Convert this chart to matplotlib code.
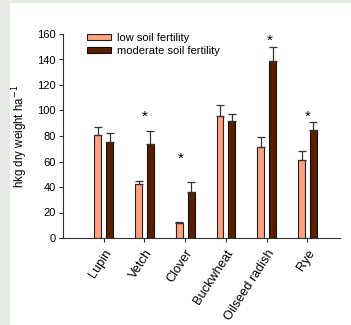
import numpy as np
import matplotlib.pyplot as plt
from matplotlib.patches import Rectangle

plt.rcParams['font.family'] = ['Liberation Sans', 'DejaVu Sans']

crops = ["Lupin", "Vetch", "Clover", "Buckwheat", "Oilseed radish", "Rye"]
low_mean = [80.5, 42, 12, 96, 71, 61]
low_err = [6.5, 2.5, 0.5, 8, 8.5, 7.5]
mod_mean = [75.5, 74, 36, 91.5, 138.5, 85]
mod_err = [7, 10, 8, 5.5, 11.5, 6]

# significance stars (x in category units, y in data units)
star_x = [1.0, 1.88, 4.07, 5.0]
star_y = [95, 62, 155, 95]

low_color = "#ffa07f"
mod_color = "#5c1e00"

fig = plt.figure(figsize=(3.51, 3.25), dpi=100, facecolor="#e2eae1")
fig.patches.append(Rectangle((10 / 351, 0), 1, 1 - 3 / 325, transform=fig.transFigure,
                             facecolor="white", edgecolor="none", zorder=-10))
ax = fig.add_axes([63 / 351, 1 - 238 / 325, 277 / 351, 204 / 325])
ax.set_facecolor("none")

x = np.arange(len(crops))
w = 0.17
off = 0.145
ekw = dict(ecolor="#333333", elinewidth=0.9, capsize=3, capthick=0.9)
ax.bar(x - off, low_mean, w, color=low_color, edgecolor="#222222", linewidth=0.8,
       yerr=[np.zeros(len(x)), low_err], error_kw=ekw, label="low soil fertility")
ax.bar(x + off, mod_mean, w, color=mod_color, edgecolor="#111111", linewidth=0.8,
       yerr=[np.zeros(len(x)), mod_err], error_kw=ekw, label="moderate soil fertility")

for sx, sy in zip(star_x, star_y):
    ax.text(sx, sy, "*", ha="center", va="center", fontsize=11)

ax.set_xlim(-1.0, 5.8)
ax.set_ylim(0, 160)
ax.set_yticks(np.arange(0, 161, 20))
ax.set_xticks(x)
ax.set_xticklabels(crops, rotation=57, ha="right", rotation_mode="anchor", fontsize=9.2)
ax.tick_params(axis="y", labelsize=8, length=3, width=0.8, colors="#333333", pad=2)
ax.tick_params(axis="x", length=3, width=0.8, colors="#333333", pad=4)
for lab in ax.get_xticklabels() + ax.get_yticklabels():
    lab.set_color("black")
for s in ["top", "right"]:
    ax.spines[s].set_visible(False)
for s in ["left", "bottom"]:
    ax.spines[s].set_linewidth(0.8)
    ax.spines[s].set_color("#333333")

ax.set_ylabel("hkg dry weight ha$^{-1}$", fontsize=8.3, labelpad=5)

ax.legend(loc="upper left", bbox_to_anchor=(0.07, 1.025), frameon=False, fontsize=8,
          handlelength=2.2, handleheight=0.45, handletextpad=0.55, labelspacing=0.2,
          borderaxespad=0)

fig.savefig("out.png", dpi=100, facecolor=fig.get_facecolor())
